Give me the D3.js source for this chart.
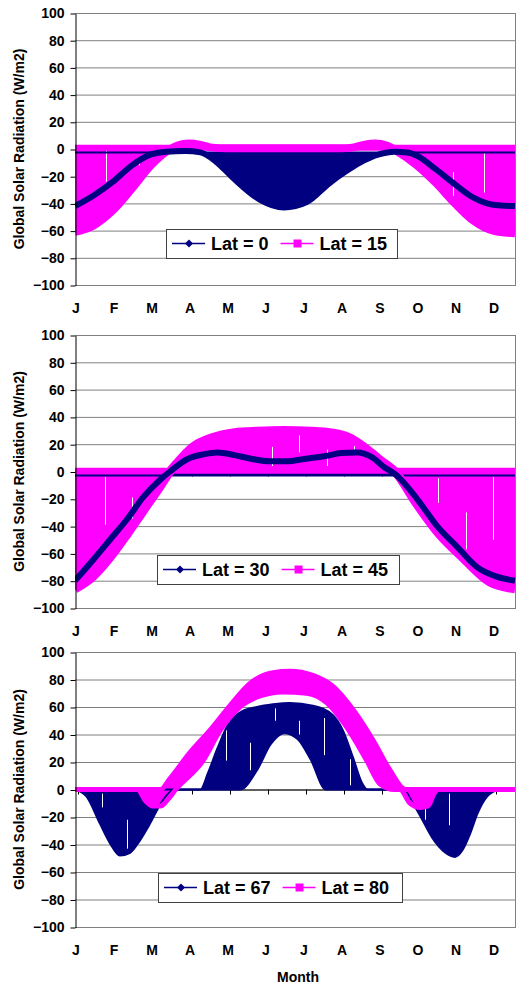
<!DOCTYPE html>
<html>
<head>
<meta charset="utf-8">
<script src="https://cdn.jsdelivr.net/npm/d3@7"></script>
<style>
body { margin: 0; background: #fff; }
text { font-family: Arial, "Liberation Sans", sans-serif; font-weight: bold; fill: #000; }
</style>
</head>
<body>
<svg id="chart" width="522" height="985"></svg>
<script>
// month labels and y ticks
var monthLabels = ["J","F","M","A","M","J","J","A","S","O","N","D"];
var yTicks = [-100,-80,-60,-40,-20,0,20,40,60,80,100];
var lastMonth = 11.58; // data stops a bit before the end of December

// values as [month, W/m2], month 0 = 1 January
// panel 1
var lat0Curve = [[0,-42],[0.5,-34],[1,-24],[1.5,-12],[2,-4],[2.4,-2],[2.9,-1.5],[3.3,-2.5],[3.7,-9],[4.15,-21],[4.85,-37],[5.5,-43],[6.1,-39],[6.7,-25],[7.1,-17],[7.5,-10],[8,-4],[8.4,-2],[8.75,-2.5],[9,-5],[9.5,-15],[10,-26],[10.5,-36],[11,-41],[11.58,-42]];
var lat0Base = [[0,-2.5],[11.58,-2.5]];
var lat15Curve = [[0,-61],[0.5,-56],[1,-45],[1.5,-29],[2,-12],[2.4,-2],[2.7,2.5],[3,4],[3.3,3],[3.6,1],[4,0.5],[7,0.5],[7.3,1],[7.6,3],[7.9,4],[8.2,2.5],[8.5,-2],[9,-12],[9.5,-25],[10,-40],[10.5,-53],[11,-60],[11.58,-62]];
var lat15Base = [[0,1],[11.58,1]];
// panel 2
var lat30Curve = [[0,-80],[0.47,-65],[0.92,-50],[1.37,-35],[1.79,-19],[2.24,-6],[2.5,0],[2.95,9],[3.37,12.5],[3.74,14],[4.2,12],[4.6,9.5],[5.13,7.5],[5.6,7.5],[6,9],[6.63,11.5],[7,13.5],[7.42,14],[7.84,10],[8.1,4],[8.47,-3],[9,-20],[9.53,-40],[10.05,-55],[10.58,-70],[11.1,-77],[11.58,-80]];
var lat30Base = [[0,-3],[11.58,-3]];
var lat45Curve = [[0,-86],[0.47,-77],[0.92,-63],[1.37,-46],[1.79,-29],[2.24,-11],[2.5,0],[2.68,6],[3.1,18],[3.63,25],[4.2,28.5],[4.8,29.5],[5.5,30],[6.2,29.5],[6.8,28],[7.2,25],[7.6,18],[8,9],[8.45,-1],[9,-24],[9.53,-44],[10.2,-63],[10.92,-81],[11.58,-86]];
var lat45Base = [[0,0.5],[11.58,0.5]];
// panel 3
var lat67Upper = [[0,0],[3.3,0],[3.5,12],[3.75,30],[4.08,50],[4.34,56],[4.79,60],[5.21,62],[5.66,63],[6.26,61],[6.79,54],[7.05,43],[7.32,23],[7.55,5],[7.7,0],[11.58,0]];
var lat67Lower = [[0,0],[0.3,-5],[0.66,-25],[0.92,-39],[1.18,-48],[1.45,-46],[1.71,-37],[1.97,-25],[2.24,-11],[2.45,-3],[2.6,0],[4.35,0],[4.79,14],[5.15,33],[5.5,41],[5.85,37],[6.2,22],[6.6,0],[8.65,0],[8.85,-8],[9.1,-20],[9.4,-35],[9.75,-46],[10,-49],[10.2,-44],[10.4,-32],[10.6,-17],[10.85,-5],[11.1,-1],[11.58,0]];
var lat80Upper = [[0,0],[2.25,0],[2.5,8],[3.03,27],[3.55,43],[4.08,61],[4.6,77],[5.21,85],[5.66,86],[6.26,83],[6.79,75],[7.32,58],[7.84,36],[8.29,14],[8.7,0],[11.58,0]];
var lat80Lower = [[0,0],[1.65,0],[1.85,-8],[2.05,-12],[2.25,-12],[2.45,-7],[2.65,0],[3.37,21],[3.82,43],[4.34,60],[4.87,68],[5.47,71],[6.1,70],[6.63,63],[7.16,45],[7.68,21],[8.03,4],[8.4,0],[8.55,0],[8.82,-10],[9.08,-13],[9.29,-12],[9.45,-3],[9.55,0],[11.58,0]];

// days where the series has gaps: [month, from, to]
var gaps1 = [[0.82,0,-24],[1.68,-8,-12],[9.95,-17,-35],[10.76,-3,-32]];
var gaps2 = [[0.79,-4,-39],[1.5,-19,-35],[5.18,18,4],[5.9,28,14],[6.63,16,4],[7.34,24,16],[9.55,-5,-23],[10.29,-30,-57],[11.0,-4,-50]];
var gaps3 = [[0.71,-3,-13],[1.37,-22,-43],[3.97,43,21],[4.6,34,14],[5.26,59,50],[5.9,50,40],[6.55,52,25],[7.24,22,3],[9.2,-13,-22],[9.84,-3,-26]];

var navy = "#000080", magenta = "#FF00FF";

// strokes: [values, width, drawn above the other series]
var panels = [
  { top: 13, height: 272, legendTop: 229, legendLeft: 166, legendWidth: 231, gaps: gaps1,
    series: [
      { name: "Lat = 0", color: navy, marker: "diamond", fill: [lat0Base, lat0Curve], strokes: [[lat0Base, 2, false], [lat0Curve, 6, true]] },
      { name: "Lat = 15", color: magenta, marker: "square", fill: [lat15Base, lat15Curve], strokes: [[lat15Base, 6, false], [lat15Curve, 8, false]] }
    ] },
  { top: 335, height: 273, legendTop: 555, legendLeft: 157, legendWidth: 242, gaps: gaps2,
    series: [
      { name: "Lat = 30", color: navy, marker: "diamond", fill: [lat30Base, lat30Curve], strokes: [[lat30Base, 2, false], [lat30Curve, 6, true]] },
      { name: "Lat = 45", color: magenta, marker: "square", fill: [lat45Base, lat45Curve], strokes: [[lat45Base, 6, false], [lat45Curve, 9, false]] }
    ] },
  { top: 652, height: 275, legendTop: 873, legendLeft: 158, legendWidth: 244, gaps: gaps3, xTitle: "Month",
    series: [
      { name: "Lat = 67", color: navy, marker: "diamond", fill: [lat67Upper, lat67Lower], strokes: [[lat67Upper, 2, false], [lat67Lower, 2, false]] },
      { name: "Lat = 80", color: magenta, marker: "square", fill: [lat80Upper, lat80Lower], strokes: [[lat80Upper, 5, false], [lat80Lower, 5, false]] }
    ] }
];

var svg = d3.select("#chart");
var left = 75, right = 515;

var x = d3.scaleLinear().domain([0, lastMonth]).range([left, right]);

panels.forEach(function(p, pi) {
  var y = d3.scaleLinear().domain([-100, 100]).range([p.top + p.height, p.top]);
  var g = svg.append("g");

  var clipId = "clip" + pi;
  g.append("clipPath").attr("id", clipId)
    .append("rect").attr("x", left).attr("y", p.top - 6).attr("width", right - left + 4).attr("height", p.height + 12);

  // gridlines
  g.selectAll(".grid").data(yTicks).enter().append("line")
    .attr("x1", left).attr("x2", right)
    .attr("y1", function(d) { return y(d) + 0.5; }).attr("y2", function(d) { return y(d) + 0.5; })
    .attr("stroke", "#808080").attr("stroke-width", 1);
  g.append("line")
    .attr("x1", right + 0.5).attr("x2", right + 0.5).attr("y1", y(100)).attr("y2", y(-100) + 1)
    .attr("stroke", "#808080");

  // category axis at zero with small ticks
  g.append("line").attr("x1", left).attr("x2", right).attr("y1", y(0) + 0.5).attr("y2", y(0) + 0.5).attr("stroke", "#000");
  g.selectAll(".xtick").data(monthLabels).enter().append("line")
    .attr("x1", function(d, i) { return Math.round(x(i)) + 3.5; })
    .attr("x2", function(d, i) { return Math.round(x(i)) + 3.5; })
    .attr("y1", y(0)).attr("y2", y(0) + 5).attr("stroke", "#000");

  var line = d3.line().curve(d3.curveMonotoneX)
    .x(function(d) { return x(d[0]); })
    .y(function(d) { return y(d[1]); });

  var data = g.append("g").attr("clip-path", "url(#" + clipId + ")");

  // fills first (the dense zigzag of each series)
  p.series.forEach(function(s) {
    var a = line(s.fill[0]);
    var b = line(s.fill[1].slice().reverse());
    data.append("path")
      .attr("d", a + "L" + b.slice(1) + "Z")
      .attr("fill", s.color);
  });
  // missing days show as thin white streaks
  data.selectAll(".gap").data(p.gaps).enter().append("line")
    .attr("x1", function(d) { return Math.round(x(d[0])) + 0.5; })
    .attr("x2", function(d) { return Math.round(x(d[0])) + 0.5; })
    .attr("y1", function(d) { return y(d[1]); })
    .attr("y2", function(d) { return y(d[2]); })
    .attr("stroke", "#fff").attr("stroke-width", 1);
  // marker bands
  [false, true].forEach(function(onTop) {
    p.series.forEach(function(s) {
      s.strokes.filter(function(st) { return st[2] === onTop; }).forEach(function(st) {
        data.append("path")
          .attr("d", line(st[0]))
          .attr("fill", "none")
          .attr("stroke", s.color)
          .attr("stroke-width", st[1])
          .attr("stroke-linejoin", "round");
      });
    });
  });

  // y axis
  var yAxis = d3.axisLeft(y).tickValues(yTicks).tickSize(5).tickSizeOuter(0).tickPadding(6);
  var ya = g.append("g").attr("transform", "translate(" + (left + 0.5) + ",0.5)").call(yAxis);
  ya.select(".domain").attr("stroke", "#000");
  ya.selectAll("text").style("font-size", "14px").style("font-family", "Arial, 'Liberation Sans', sans-serif").style("font-weight", "bold");

  g.append("text")
    .attr("transform", "translate(24," + (p.top + p.height / 2) + ") rotate(-90)")
    .attr("text-anchor", "middle")
    .style("font-size", "14px")
    .text("Global Solar Radiation (W/m2)");

  // month labels
  g.selectAll(".mlab").data(monthLabels).enter().append("text")
    .attr("x", function(d, i) { return x(i) + 1; })
    .attr("y", p.top + p.height + 28)
    .attr("text-anchor", "middle")
    .style("font-size", "14px")
    .text(function(d) { return d; });

  if (p.xTitle) {
    g.append("text").attr("x", 298).attr("y", 982).attr("text-anchor", "middle")
      .style("font-size", "14px").text(p.xTitle);
  }

  // legend
  var lg = g.append("g").attr("transform", "translate(" + p.legendLeft + "," + p.legendTop + ")");
  lg.append("rect").attr("x", 0.5).attr("y", 0.5).attr("width", p.legendWidth).attr("height", 29)
    .attr("fill", "#fff").attr("stroke", "#404040");
  var ox = 6;
  p.series.forEach(function(s) {
    lg.append("line").attr("x1", ox).attr("x2", ox + 33).attr("y1", 14.5).attr("y2", 14.5)
      .attr("stroke", s.color).attr("stroke-width", 1.5);
    if (s.marker === "diamond") {
      lg.append("path").attr("d", d3.symbol(d3.symbolDiamond2, 40)())
        .attr("transform", "translate(" + (ox + 17) + ",14.5)").attr("fill", s.color);
    } else {
      lg.append("rect").attr("x", ox + 13).attr("y", 10.5).attr("width", 8).attr("height", 8).attr("fill", s.color);
    }
    var t = lg.append("text").attr("x", ox + 39).attr("y", 21).style("font-size", "18px").text(s.name);
    ox = ox + 39 + t.node().getComputedTextLength() + 12;
  });
});
</script>
</body>
</html>
